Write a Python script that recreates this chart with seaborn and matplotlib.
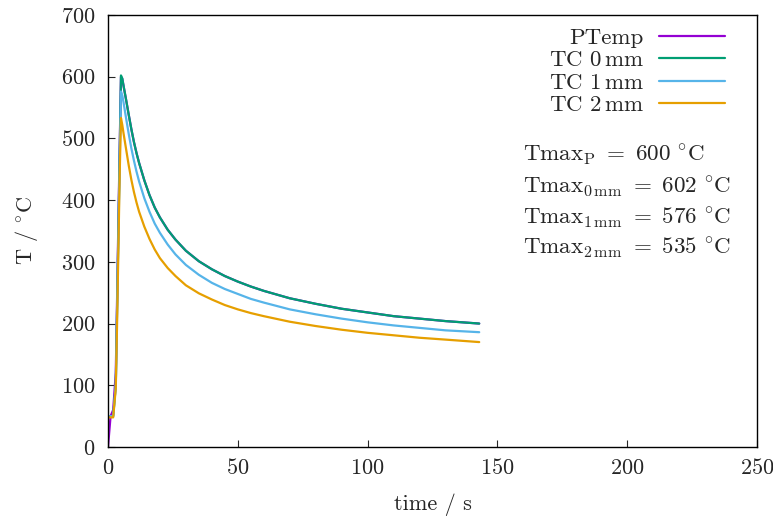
import matplotlib
matplotlib.use("Agg")
import matplotlib.pyplot as plt
import pandas as pd
import seaborn as sns

# time in s
t = [0, 1, 2, 3, 3.5, 4, 4.5, 5, 5.5, 6, 7, 8, 9, 10, 11, 12, 14, 16, 18,
     20, 23, 26, 30, 35, 40, 45, 50, 55, 60, 70, 80, 90, 100, 110, 120,
     130, 143]
ptemp = [0, 50, 60, 120, 240, 365, 485, 600, 597, 585, 562, 538, 515, 494,
         476, 460, 432, 408, 388, 372, 352, 336, 318, 301, 288, 277, 268,
         260, 253, 241, 232, 224, 218, 212, 208, 204, 200]
tc0 = [50, 50, 50, 100, 225, 350, 475, 602, 597, 585, 562, 538, 515, 494,
       476, 460, 432, 408, 388, 372, 352, 336, 318, 301, 288, 277, 268,
       260, 253, 241, 232, 224, 218, 212, 208, 204, 200]
tc1 = [50, 50, 50, 100, 220, 340, 460, 576, 570, 558, 532, 507, 484, 464,
       446, 430, 403, 381, 362, 347, 328, 312, 295, 279, 266, 256, 248,
       240, 234, 223, 215, 208, 202, 197, 193, 189, 186]
tc2 = [48, 48, 48, 95, 200, 320, 440, 533, 522, 508, 482, 456, 433, 413,
       396, 381, 357, 337, 320, 306, 290, 277, 262, 249, 239, 230, 223,
       217, 212, 203, 196, 190, 185, 181, 177, 174, 170]

series = ["PTemp", r"TC 0$\,$mm", r"TC 1$\,$mm", r"TC 2$\,$mm"]
colors = ["#9400D3", "#009E73", "#56B4E9", "#E69F00"]
tmax_sub = ["P", r"0\,mm", r"1\,mm", r"2\,mm"]
tmax_val = [600, 602, 576, 535]

frames = []
for name, vals in zip(series, [ptemp, tc0, tc1, tc2]):
    frames.append(pd.DataFrame({"time": t, "T": vals, "series": name}))
df = pd.concat(frames, ignore_index=True)

sns.set_style("white")
plt.rcParams["font.family"] = ["cmr10"]
plt.rcParams["mathtext.fontset"] = "cm"
plt.rcParams["axes.formatter.use_mathtext"] = True
plt.rcParams["font.size"] = 16

fig = plt.figure(figsize=(7.73, 5.2), dpi=100)
ax = fig.add_axes([0.1397, 0.1404, 0.8396, 0.8308])

sns.lineplot(data=df, x="time", y="T", hue="series", hue_order=series,
             palette=colors, estimator=None, linewidth=1.6, ax=ax)

ax.set_xlim(0, 250)
ax.set_ylim(0, 700)
ax.set_xticks(range(0, 251, 50))
ax.set_yticks(range(0, 701, 100))
ax.tick_params(direction="in", length=5, width=0.8, labelsize=16,
               bottom=True, left=True, top=False, right=False)
ax.tick_params(axis="y", pad=9)
ax.tick_params(axis="x", pad=8)
for sp in ax.spines.values():
    sp.set_linewidth(1.0)
    sp.set_color("black")

ax.set_xlabel("time / s", fontsize=16, va="center")
ax.set_ylabel(r"T / $^{\circ}\mathrm{C}$", fontsize=16, va="center")
ax.xaxis.set_label_coords(0.5, -0.134)
ax.yaxis.set_label_coords(-0.125, 0.5)

ax.legend(loc="upper right", bbox_to_anchor=(0.951, 0.97), frameon=False,
          markerfirst=False, handlelength=2.9, handletextpad=0.65,
          labelspacing=0.1, borderaxespad=0, borderpad=0, fontsize=16.5)

# Tmax annotations
ys = [473, 421, 371, 322]
for sub, val, y in zip(tmax_sub, tmax_val, ys):
    label = (r"$\mathrm{Tmax}_\mathrm{" + sub + r"}\ =\ \mathrm{"
             + str(val) + r"}\ ^{\circ}\mathrm{C}$")
    ax.text(160, y, label, fontsize=16.6, va="center", ha="left")

fig.savefig("out.png", dpi=100)
